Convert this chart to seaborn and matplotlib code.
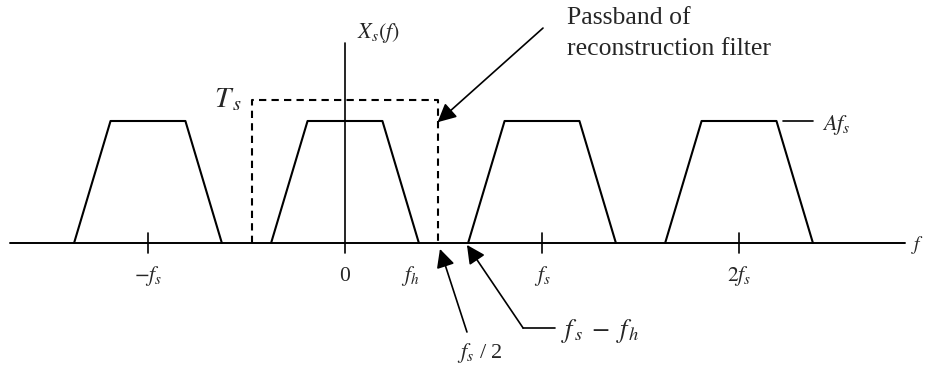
import numpy as np
import pandas as pd
import matplotlib
matplotlib.use("Agg")
import matplotlib.pyplot as plt
import seaborn as sns

# Spectrum of a sampled signal: copies of the baseband spectrum at multiples of fs
fs = 1.0
copies = [-1, 0, 1, 2]          # spectral images at k*fs
fh = 0.375                      # highest frequency of the baseband signal
flat_half = 0.19                # half width of the flat top
amplitude = 1.0                 # A*fs
Ts = 1.17                       # gain of the reconstruction filter
cutoff = 0.47                   # passband edge (about fs/2)

tick_pos = [-1, 0, 0.33, 1, 2]
tick_text = [r"$-f_s$", "0", r"$f_h$", r"$f_s$", r"$2f_s$"]

sns.set_theme(style="white")
plt.rcParams["font.family"] = ["Liberation Serif", "DejaVu Serif"]
plt.rcParams["mathtext.fontset"] = "stix"

rows = []
for k in copies:
    c = k * fs
    xs = [c - fh, c - flat_half, c + flat_half, c + fh]
    ys = [0, amplitude, amplitude, 0]
    for i, (x, y) in enumerate(zip(xs, ys)):
        rows.append({"copy": k, "order": i, "f": x, "X": y})
spec = pd.DataFrame(rows)

fig = plt.figure(figsize=(9.27, 3.68), dpi=100)
ax = fig.add_axes([0, 0, 1, 1])
ax.set_xlim(-1.751, 2.954)
ax.set_ylim(-1.025, 1.992)
ax.axis("off")

# frequency axis and vertical axis
ax.plot([-1.70, 2.843], [0, 0], color="black", lw=1.4)
ax.plot([0, 0], [-0.082, 1.639], color="black", lw=1.2)

# spectral images
sns.lineplot(data=spec, x="f", y="X", units="copy", estimator=None, sort=False,
             color="black", lw=1.5, ax=ax, legend=False)

# ticks at multiples of fs
for k in copies:
    if k != 0:
        ax.plot([k * fs, k * fs], [-0.082, 0.082], color="black", lw=1.2)

# reconstruction filter passband
ax.plot([-cutoff, -cutoff, cutoff, cutoff], [0, Ts, Ts, 0], color="black",
        lw=1.5, ls=(0, (3.5, 2.5)))

for x, t in zip(tick_pos, tick_text):
    ax.text(x, -0.315, t, ha="center", va="baseline", fontsize=15.5)

ax.text(0.062, 1.68, r"$X_s(f)$", ha="left", va="baseline", fontsize=16)
ax.text(-0.52, 1.11, r"$T_{\,s}$", ha="right", va="baseline", fontsize=21)
ax.text(2.875, -0.06, r"$f$", ha="left", va="baseline", fontsize=14)

# A*fs level marker
ax.plot([2.223, 2.376], [amplitude, amplitude], color="black", lw=1.2)
ax.text(2.421, 0.93, r"$Af_s$", ha="left", va="baseline", fontsize=16)

arrow = dict(arrowstyle="-|>", mutation_scale=28, color="black", lw=1.2,
             shrinkA=0, shrinkB=0)

# passband annotation
ax.annotate("", xy=(cutoff, 0.99), xytext=(1.005, 1.762), arrowprops=arrow)
ax.text(1.127, 1.795, "Passband of", ha="left", va="baseline", fontsize=18.5)
ax.text(1.127, 1.541, "reconstruction filter", ha="left", va="baseline", fontsize=18.5)

# fs/2 annotation
ax.annotate("", xy=(0.482, -0.049), xytext=(0.619, -0.73), arrowprops=arrow)
ax.text(0.685, -0.94, r"$f_s$ / 2", ha="center", va="baseline", fontsize=16)

# fs - fh annotation
ax.annotate("", xy=(fs - fh - 0.006, -0.016), xytext=(0.904, -0.697), arrowprops=arrow)
ax.plot([0.904, 1.066], [-0.697, -0.697], color="black", lw=1.2)
ax.text(1.096, -0.77, r"$f_{\,s}\;-\;f_{\,h}$", ha="left", va="baseline", fontsize=19)

fig.savefig("out.png", dpi=100)
